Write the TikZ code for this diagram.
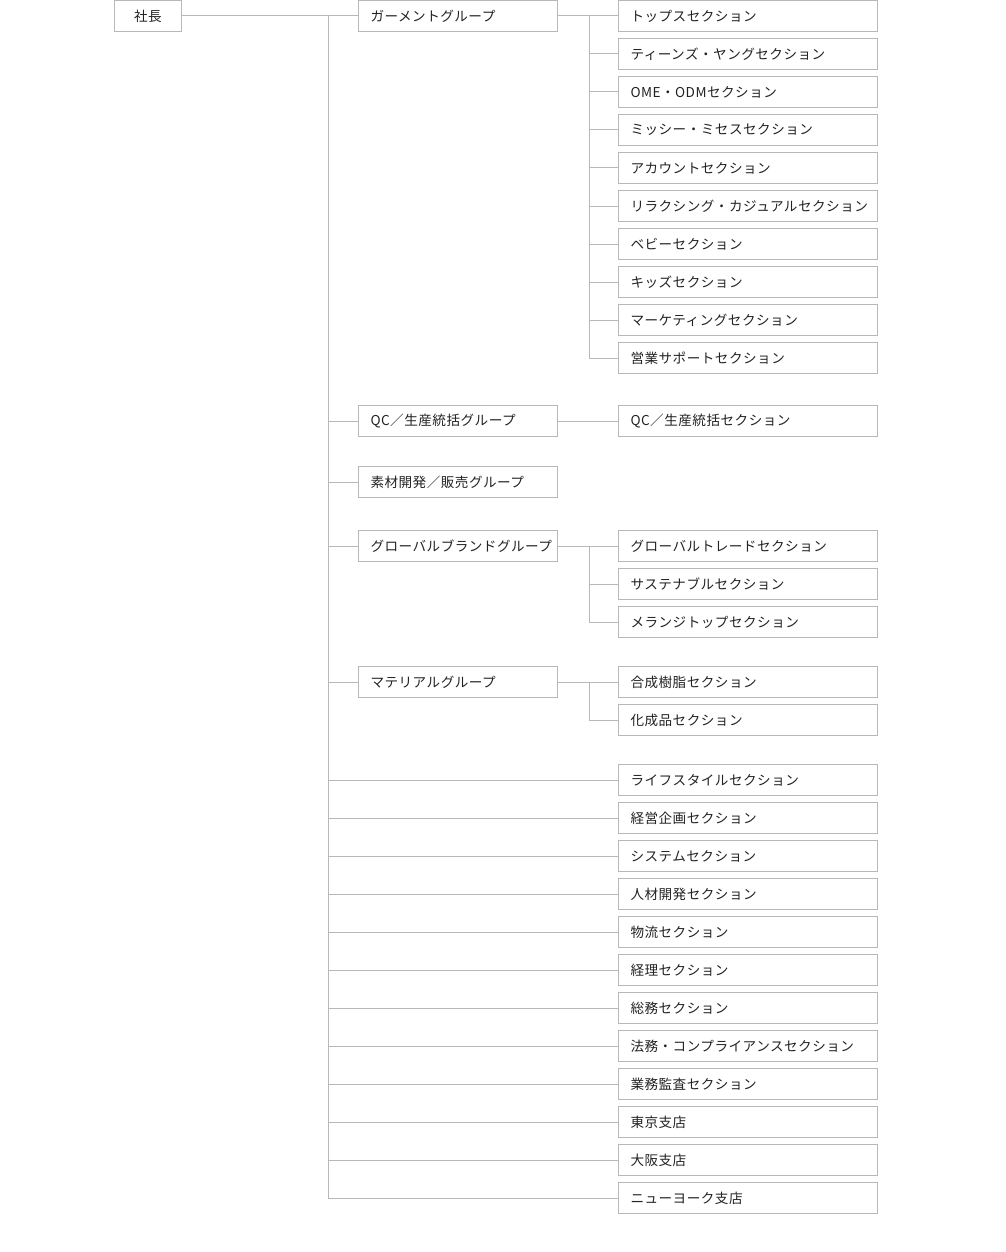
\documentclass[tikz,border=0pt]{standalone}
\usepackage{fontspec}
\setmainfont[LetterSpace=3.5]{Noto Sans CJK JP}
\definecolor{lin}{HTML}{B8B8B8}
\definecolor{txt}{HTML}{222222}
\begin{document}
\begin{tikzpicture}[x=1pt,y=-1pt,
  box/.style={draw=lin,line width=1pt,text=txt,font=\fontsize{13.6}{16}\selectfont,minimum height=31pt,inner ysep=0pt,anchor=west},
  secbox/.style={box,inner xsep=12pt,text width=235pt,align=left},
  grpbox/.style={box,inner xsep=12pt,text width=175pt,align=left},
  topbox/.style={box,minimum width=67pt,inner xsep=0pt},
  conn/.style={draw=lin,line width=1pt}]
\useasboundingbox (0,0) rectangle (1005,1252);
% top
\node[topbox] (pres) at (114,16) {社長};
% groups
\node[grpbox] (g1) at (358,16) {ガーメントグループ};
\node[grpbox] (g2) at (358,421) {QC／生産統括グループ};
\node[grpbox] (g3) at (358,482) {素材開発／販売グループ};
\node[grpbox] (g4) at (358,546) {グローバルブランドグループ};
\node[grpbox] (g5) at (358,682) {マテリアルグループ};
% garment sections
\node[secbox] (a1) at (618,16) {トップスセクション};
\node[secbox] (a2) at (618,54) {ティーンズ・ヤングセクション};
\node[secbox] (a3) at (618,92) {OME・ODMセクション};
\node[secbox] (a4) at (618,130) {ミッシー・ミセスセクション};
\node[secbox] (a5) at (618,168) {アカウントセクション};
\node[secbox] (a6) at (618,206) {リラクシング・カジュアルセクション};
\node[secbox] (a7) at (618,244) {ベビーセクション};
\node[secbox] (a8) at (618,282) {キッズセクション};
\node[secbox] (a9) at (618,320) {マーケティングセクション};
\node[secbox] (a10) at (618,358) {営業サポートセクション};
% QC
\node[secbox] (b1) at (618,421) {QC／生産統括セクション};
% global
\node[secbox] (c1) at (618,546) {グローバルトレードセクション};
\node[secbox] (c2) at (618,584) {サステナブルセクション};
\node[secbox] (c3) at (618,622) {メランジトップセクション};
% material
\node[secbox] (d1) at (618,682) {合成樹脂セクション};
\node[secbox] (d2) at (618,720) {化成品セクション};
% direct
\node[secbox] (e1) at (618,780) {ライフスタイルセクション};
\node[secbox] (e2) at (618,818) {経営企画セクション};
\node[secbox] (e3) at (618,856) {システムセクション};
\node[secbox] (e4) at (618,894) {人材開発セクション};
\node[secbox] (e5) at (618,932) {物流セクション};
\node[secbox] (e6) at (618,970) {経理セクション};
\node[secbox] (e7) at (618,1008) {総務セクション};
\node[secbox] (e8) at (618,1046) {法務・コンプライアンスセクション};
\node[secbox] (e9) at (618,1084) {業務監査セクション};
\node[secbox] (e10) at (618,1122) {東京支店};
\node[secbox] (e11) at (618,1160) {大阪支店};
\node[secbox] (e12) at (618,1198) {ニューヨーク支店};
% junctions
\coordinate (tj) at (328,16);
\coordinate (gj1) at (589,16);
\coordinate (gj4) at (589,546);
\coordinate (gj5) at (589,682);
% connectors
\draw[conn] (pres.east) -- (g1.west);
\foreach \n in {g2,g3,g4,g5,e1,e2,e3,e4,e5,e6,e7,e8,e9,e10,e11,e12}
  \draw[conn] (tj) |- (\n.west);
\draw[conn] (g1.east) -- (a1.west);
\foreach \n in {a2,a3,a4,a5,a6,a7,a8,a9,a10}
  \draw[conn] (gj1) |- (\n.west);
\draw[conn] (g2.east) -- (b1.west);
\draw[conn] (g4.east) -- (c1.west);
\foreach \n in {c2,c3}
  \draw[conn] (gj4) |- (\n.west);
\draw[conn] (g5.east) -- (d1.west);
\draw[conn] (gj5) |- (d2.west);
\end{tikzpicture}
\end{document}
